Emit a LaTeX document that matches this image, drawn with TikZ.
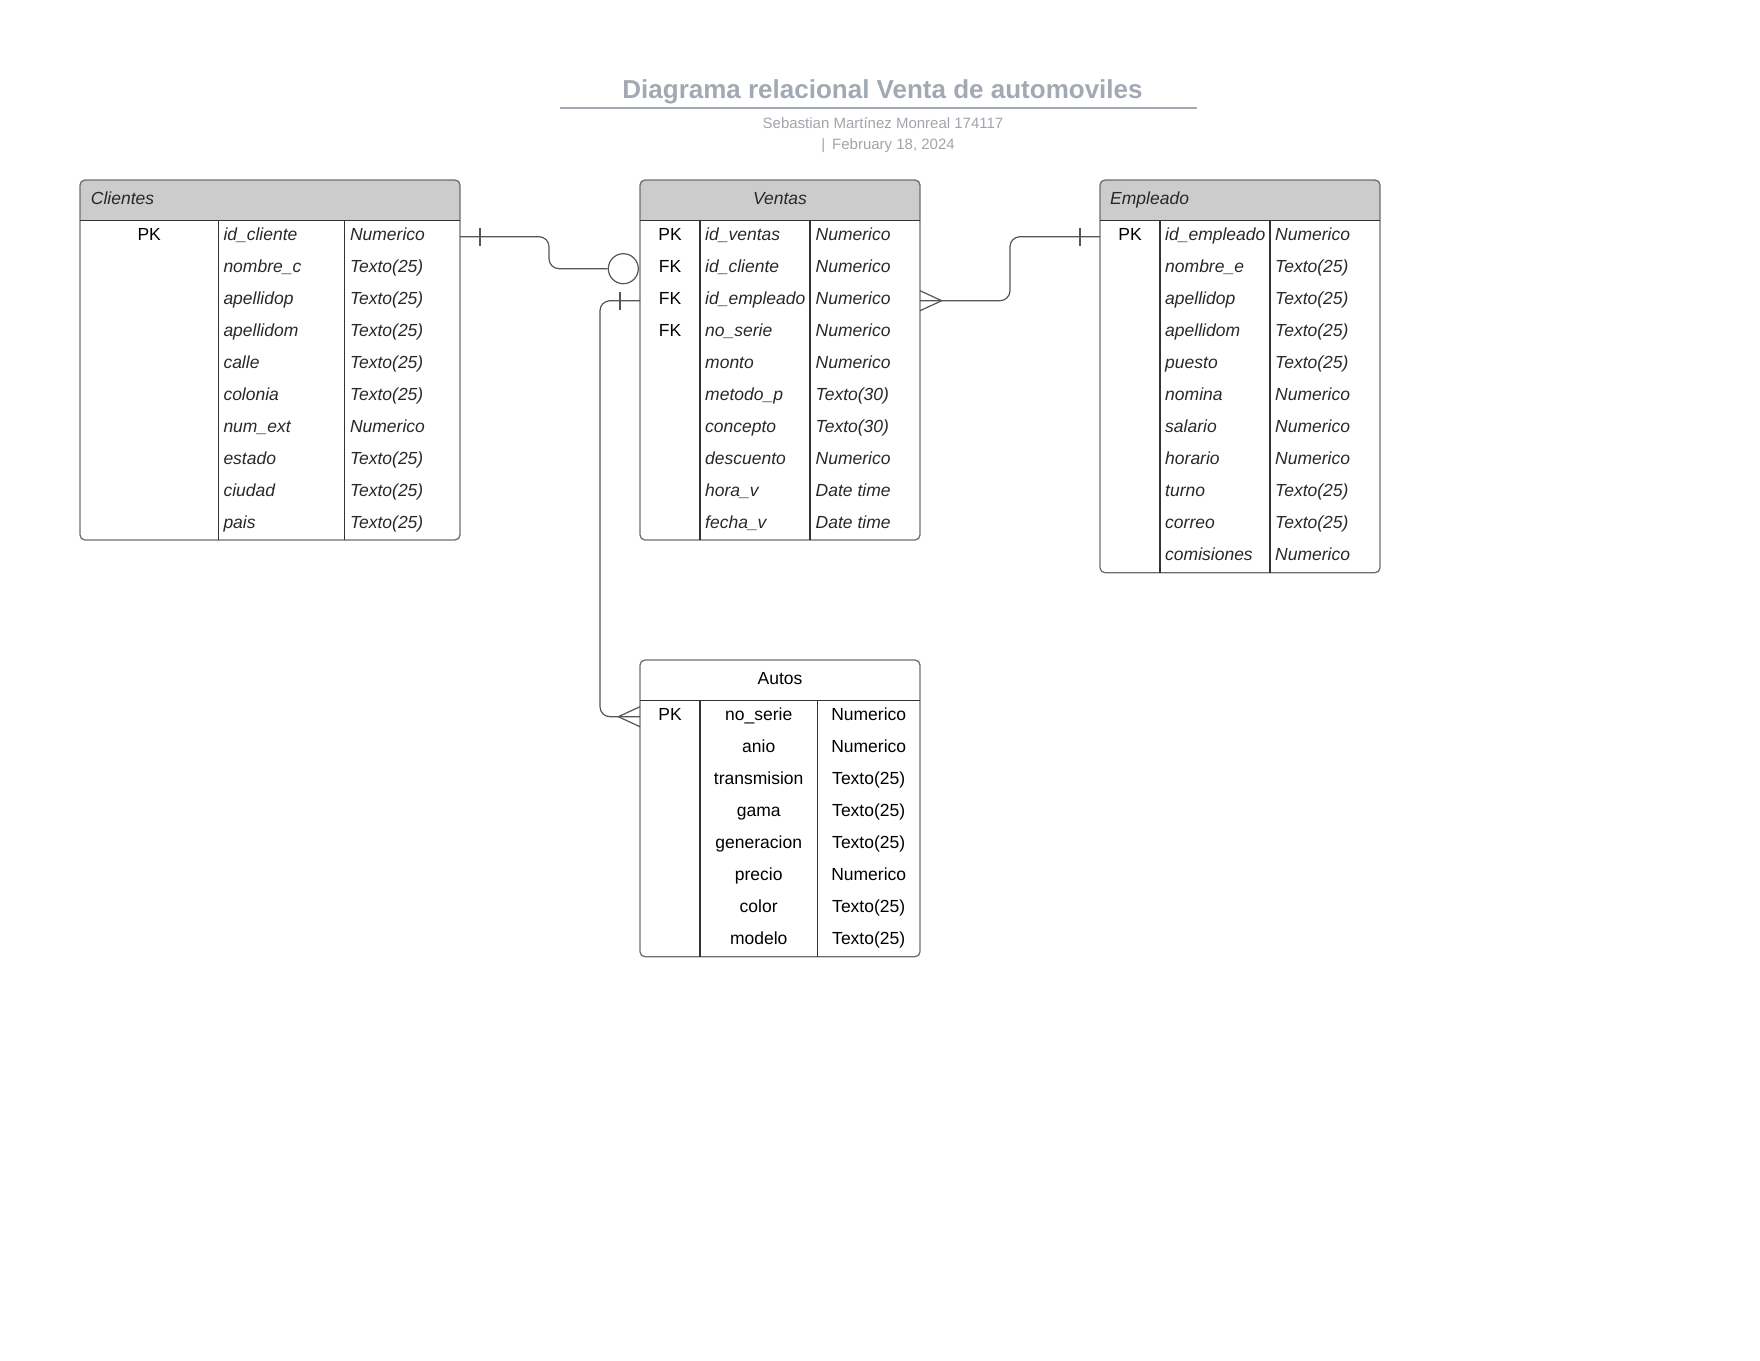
\documentclass[tikz,border=0pt]{standalone}
\usepackage{fontspec}
\setmainfont{Liberation Sans}
\definecolor{titlec}{RGB}{163,169,179}
\definecolor{subc}{RGB}{160,165,172}
\definecolor{hdrc}{RGB}{204,204,204}
\definecolor{tblline}{RGB}{110,110,110}
\definecolor{divc}{RGB}{51,51,51}
\definecolor{txtc}{RGB}{40,40,40}
\definecolor{connc}{RGB}{85,85,85}
\begin{document}
\begin{tikzpicture}[x=1pt,y=-1pt,
  tbl/.style={draw=tblline, line width=1.3pt, rounded corners=5pt, inner sep=0pt, outer sep=0pt, anchor=north west},
  hdrfill/.style={fill=hdrc, rounded corners=5pt},
  hdrtxt/.style={font=\fontsize{17.5}{20}\selectfont\itshape, text=txtc, inner sep=0pt},
  hdrup/.style={font=\fontsize{17.5}{20}\selectfont, text=black, inner sep=0pt, anchor=base},
  keytxt/.style={font=\fontsize{17.5}{20}\selectfont, text=black, inner sep=0pt, anchor=base},
  fldtxt/.style={font=\fontsize{17.5}{20}\selectfont\itshape, text=txtc, inner sep=0pt, anchor=base west},
  uptxt/.style={font=\fontsize{17.5}{20}\selectfont, text=black, inner sep=0pt, anchor=base},
  divline/.style={draw=divc, line width=1.1pt},
  conn/.style={draw=connc, line width=1.2pt},
  crowline/.style={draw=connc, line width=1.2pt, line join=miter}
]
\useasboundingbox (0,0) rectangle (1760,1360);

% ---------- title ----------
\node[font=\fontsize{26}{30}\selectfont\bfseries, text=titlec, anchor=base, inner sep=0pt] (title) at (882.5,98) {Diagrama relacional Venta de automoviles};
\draw[titlec, line width=2pt] (560,107.7) -- (1196.5,107.7);
\node[font=\fontsize{15}{18}\selectfont, text=subc, anchor=base, inner sep=0pt] (author) at (883,128.8) {Sebastian Martínez Monreal 174117};
\node[font=\fontsize{15}{18}\selectfont, text=subc, anchor=base, inner sep=0pt] (date) at (888,149.5) {|\hspace{7pt}February 18, 2024};

% ---------- Clientes ----------
\begin{scope}
  \clip (80,180) rectangle (460,220.7);
  \fill[hdrfill] (80,180) rectangle (460,540);
\end{scope}
\node[tbl, minimum width=380pt, minimum height=360pt] (cli) at (80,180) {};
\draw[divline] (80,220.7) -- (460,220.7);
\draw[divline] (218.3,220.7) -- (218.3,540) (344.3,220.7) -- (344.3,540);
\node[hdrtxt, anchor=base west] (cli-h) at (90.7,204.3) {Clientes};
\node[keytxt] (cli-k0) at (149.2,240.5) {PK};
\foreach \fn/\ty [count=\i from 0] in {id\_cliente/Numerico, nombre\_c/Texto(25), apellidop/Texto(25), apellidom/Texto(25), calle/Texto(25), colonia/Texto(25), num\_ext/Numerico, estado/Texto(25), ciudad/Texto(25), pais/Texto(25)} {
  \coordinate (cli-row\i) at (80,{236.7+32*\i});
  \node[fldtxt] (cli-f\i) at (223.3,{240.5+32*\i}) {\fn};
  \node[fldtxt] (cli-t\i) at (349.8,{240.5+32*\i}) {\ty};
}

% ---------- Ventas ----------
\begin{scope}
  \clip (640,180) rectangle (920,220.7);
  \fill[hdrfill] (640,180) rectangle (920,540);
\end{scope}
\node[tbl, minimum width=280pt, minimum height=360pt] (ven) at (640,180) {};
\draw[divline] (640,220.7) -- (920,220.7);
\draw[divline] (700,220.7) -- (700,540) (810,220.7) -- (810,540);
\node[hdrtxt, anchor=base] (ven-h) at (780,204.3) {Ventas};
\foreach \ky [count=\i from 0] in {PK,FK,FK,FK} {
  \node[keytxt] (ven-k\i) at (670,{240.5+32*\i}) {\ky};
}
\foreach \fn/\ty [count=\i from 0] in {id\_ventas/Numerico, id\_cliente/Numerico, id\_empleado/Numerico, no\_serie/Numerico, monto/Numerico, metodo\_p/Texto(30), concepto/Texto(30), descuento/Numerico, hora\_v/Date time, fecha\_v/Date time} {
  \coordinate (ven-row\i) at (640,{236.7+32*\i});
  \node[fldtxt] (ven-f\i) at (705,{240.5+32*\i}) {\fn};
  \node[fldtxt] (ven-t\i) at (815.5,{240.5+32*\i}) {\ty};
}

% ---------- Empleado ----------
\begin{scope}
  \clip (1100,180) rectangle (1380,220.7);
  \fill[hdrfill] (1100,180) rectangle (1380,572.7);
\end{scope}
\node[tbl, minimum width=280pt, minimum height=392.7pt] (emp) at (1100,180) {};
\draw[divline] (1100,220.7) -- (1380,220.7);
\draw[divline] (1160,220.7) -- (1160,572.7) (1270,220.7) -- (1270,572.7);
\node[hdrtxt, anchor=base west] (emp-h) at (1110,204.3) {Empleado};
\node[keytxt] (emp-k0) at (1130,240.5) {PK};
\foreach \fn/\ty [count=\i from 0] in {id\_empleado/Numerico, nombre\_e/Texto(25), apellidop/Texto(25), apellidom/Texto(25), puesto/Texto(25), nomina/Numerico, salario/Numerico, horario/Numerico, turno/Texto(25), correo/Texto(25), comisiones/Numerico} {
  \coordinate (emp-row\i) at (1100,{236.7+32*\i});
  \node[fldtxt] (emp-f\i) at (1165,{240.5+32*\i}) {\fn};
  \node[fldtxt] (emp-t\i) at (1275,{240.5+32*\i}) {\ty};
}

% ---------- Autos ----------
\node[tbl, minimum width=280pt, minimum height=296.7pt] (aut) at (640,660) {};
\draw[divline] (640,700.7) -- (920,700.7);
\draw[divline] (700,700.7) -- (700,956.7) (817.3,700.7) -- (817.3,956.7);
\node[hdrup] (aut-h) at (780,684) {Autos};
\node[keytxt] (aut-k0) at (670,720.5) {PK};
\foreach \fn/\ty [count=\i from 0] in {no\_serie/Numerico, anio/Numerico, transmision/Texto(25), gama/Texto(25), generacion/Texto(25), precio/Numerico, color/Texto(25), modelo/Texto(25)} {
  \coordinate (aut-row\i) at (640,{716.7+32*\i});
  \node[uptxt] (aut-f\i) at (758.7,{720.5+32*\i}) {\fn};
  \node[uptxt] (aut-t\i) at (868.7,{720.5+32*\i}) {\ty};
}

% ---------- connectors ----------
% Clientes -- Ventas (one to zero)
\node[circle, draw=connc, line width=1.2pt, minimum size=30pt, inner sep=0pt] (c1) at (623.3,268.7) {};
\draw[conn, rounded corners=10pt] (cli.east |- cli-row0) -- (549,236.7) -- (549,268.7) -- (c1.west);
\draw[conn] (480,227.7) -- (480,245.7);

% Ventas -- Empleado (many to one)
\draw[conn, rounded corners=10pt] (ven.east |- ven-row2) -- (1010,300.7) -- (1010,236.7) -- (emp.west |- emp-row0);
\draw[crowline] (920,290.7) -- (941.7,300.7) -- (920,310.7);
\draw[conn] (1080,227.7) -- (1080,245.7);

% Ventas -- Autos (one to many)
\draw[conn, rounded corners=10pt] (ven.west |- ven-row2) -- (600,300.7) -- (600,716.7) -- (aut.west |- aut-row0);
\draw[conn] (620,291.7) -- (620,309.7);
\draw[crowline] (640,706.7) -- (618.3,716.7) -- (640,726.7);

\end{tikzpicture}
\end{document}
